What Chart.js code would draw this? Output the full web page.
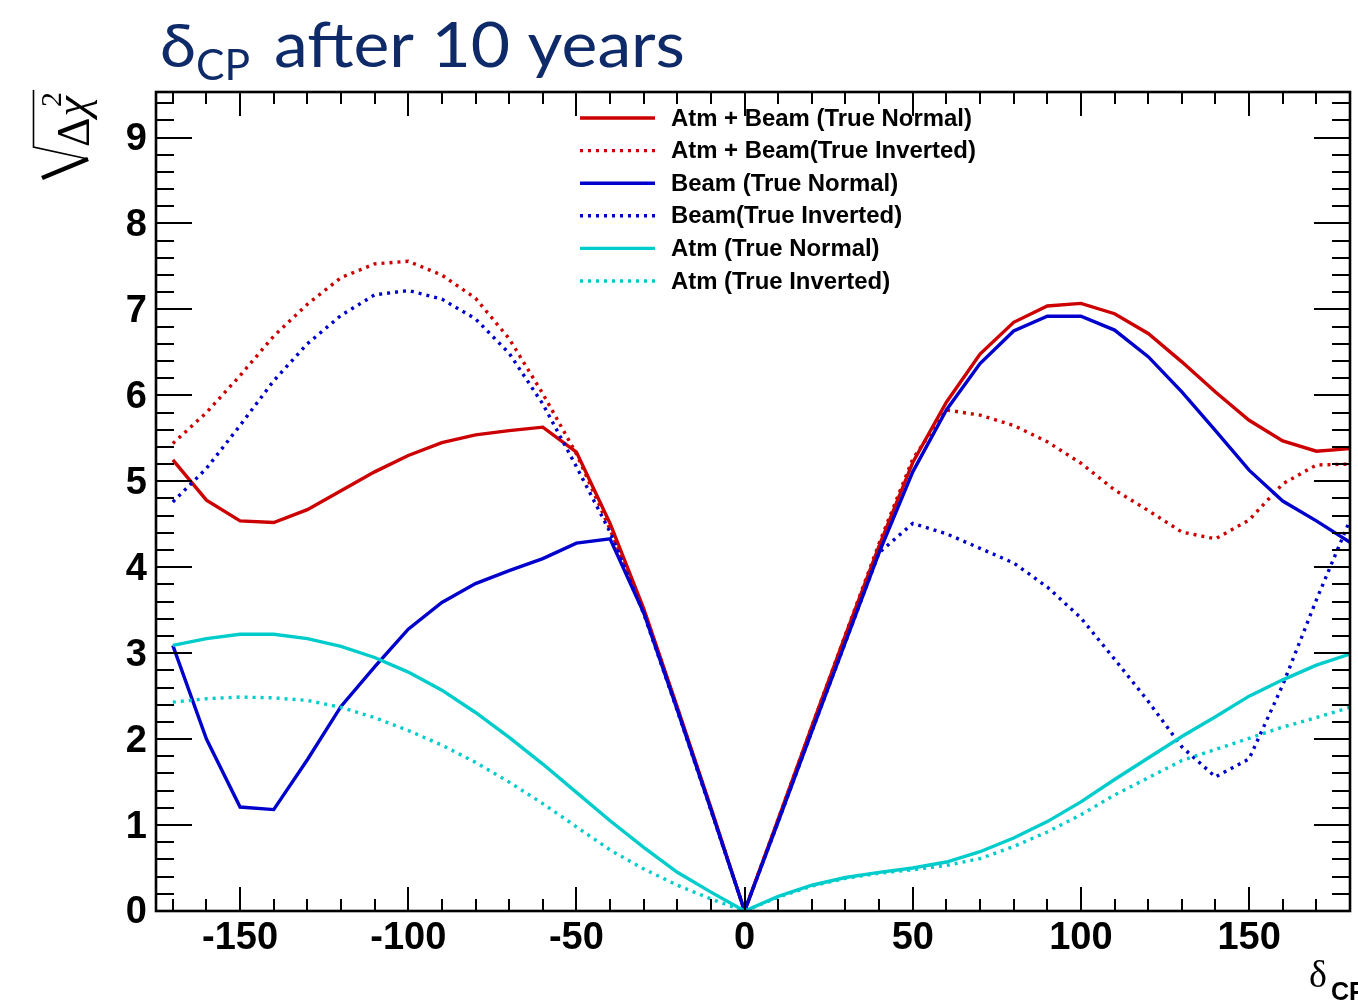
<!DOCTYPE html>
<html>
<head>
<meta charset="utf-8">
<script src="https://cdn.jsdelivr.net/npm/chart.js@4/dist/chart.umd.min.js"></script>
<style>html,body{margin:0;padding:0;background:#fff;overflow:hidden}</style>
</head>
<body>
<canvas id="c" width="1358" height="1001" style="display:block;width:1358px;height:1001px"></canvas>
<script>
// ---------------- data ----------------
const deltaCP = [-170,-160,-150,-140,-130,-120,-110,-100,-90,-80,-70,-60,-50,-40,-30,-20,-10,0,
                 10,20,30,40,50,60,70,80,90,100,110,120,130,140,150,160,170,180];

const atmBeamNormal   = [5.25,4.78,4.54,4.52,4.67,4.89,5.11,5.30,5.45,5.54,5.59,5.63,5.34,4.51,3.52,2.37,1.20,0,
                         1.07,2.15,3.21,4.25,5.22,5.92,6.48,6.85,7.04,7.07,6.95,6.72,6.39,6.04,5.71,5.47,5.35,5.38];
const atmBeamInverted = [5.44,5.80,6.23,6.69,7.06,7.37,7.53,7.56,7.40,7.13,6.66,6.02,5.32,4.44,3.50,2.36,1.19,0,
                         1.07,2.15,3.22,4.28,5.26,5.83,5.77,5.65,5.46,5.21,4.90,4.66,4.41,4.33,4.55,4.97,5.19,5.20];
const beamNormal      = [3.09,2.00,1.21,1.18,1.76,2.38,2.84,3.28,3.59,3.81,3.96,4.10,4.28,4.33,3.47,2.34,1.18,0,
                         1.04,2.09,3.13,4.17,5.11,5.83,6.37,6.75,6.92,6.92,6.76,6.45,6.04,5.59,5.13,4.77,4.54,4.29];
const beamInverted    = [4.76,5.15,5.65,6.17,6.60,6.93,7.17,7.22,7.12,6.89,6.49,5.90,5.17,4.41,3.46,2.33,1.17,0,
                         1.04,2.09,3.13,4.17,4.51,4.39,4.22,4.05,3.77,3.41,2.93,2.44,1.91,1.56,1.77,2.63,3.62,4.55];
const atmNormal       = [3.09,3.17,3.22,3.22,3.17,3.08,2.95,2.78,2.57,2.31,2.02,1.71,1.38,1.05,0.74,0.45,0.22,0,
                         0.17,0.30,0.39,0.45,0.50,0.57,0.69,0.85,1.04,1.27,1.53,1.78,2.03,2.26,2.50,2.69,2.86,2.99];
const atmInverted     = [2.43,2.47,2.49,2.48,2.45,2.37,2.25,2.10,1.93,1.73,1.50,1.25,0.98,0.71,0.49,0.30,0.14,0,
                         0.16,0.29,0.38,0.44,0.48,0.53,0.61,0.75,0.92,1.12,1.35,1.55,1.75,1.88,2.01,2.14,2.25,2.37];

const seriesLabels = ['Atm + Beam (True Normal)','Atm + Beam(True Inverted)','Beam (True Normal)',
                      'Beam(True Inverted)','Atm (True Normal)','Atm (True Inverted)'];
const xTickLabels = [-150,-100,-50,0,50,100,150];
const yTickLabels = [0,1,2,3,4,5,6,7,8,9];

// ---------------- styles ----------------
const RED = '#cc0000', BLUE = '#0000cc', CYAN = '#00cccc';
const DOT = [3,5];
const seriesValues = [atmBeamNormal, atmBeamInverted, beamNormal, beamInverted, atmNormal, atmInverted];
const seriesColors = [RED, RED, BLUE, BLUE, CYAN, CYAN];
const seriesDashes = [[], DOT, [], DOT, [], DOT];

const datasets = seriesValues.map((vals, i) => ({
  label: seriesLabels[i],
  data: deltaCP.map((d, k) => ({x: d, y: vals[k]})),
  borderColor: seriesColors[i],
  backgroundColor: seriesColors[i],
  borderWidth: 3.4,
  borderDash: seriesDashes[i],
  pointRadius: 0,
  tension: 0,
  fill: false,
  order: seriesValues.length - i
}));

const TICK_FONT = {family: "'Liberation Sans', Arial, sans-serif", weight: 'bold', size: 38};

const decor = {
  id: 'decor',
  afterDatasetsDraw(chart) {
    const {ctx, chartArea: a, scales: {x, y}} = chart;
    ctx.save();
    ctx.strokeStyle = '#000';
    ctx.lineWidth = 2;
    ctx.setLineDash([]);
    ctx.beginPath();
    for (let v = -170; v <= 180; v += 10) {
      const px = Math.round(x.getPixelForValue(v));
      const len = (v % 50 === 0) ? 24 : 12;
      ctx.moveTo(px, a.bottom); ctx.lineTo(px, a.bottom - len);
      ctx.moveTo(px, a.top); ctx.lineTo(px, a.top + len);
    }
    for (let k = 0; k <= 47; k++) {
      const py = Math.round(y.getPixelForValue(k * 0.2));
      const len = (k % 5 === 0) ? 36 : 18;
      ctx.moveTo(a.left, py); ctx.lineTo(a.left + len, py);
      ctx.moveTo(a.right, py); ctx.lineTo(a.right - len, py);
    }
    ctx.stroke();
    ctx.lineWidth = 2.6;
    ctx.strokeRect(a.left, a.top, a.right - a.left, a.bottom - a.top);
    ctx.restore();
  },
  afterDraw(chart) {
    const {ctx} = chart;
    ctx.save();
    // ---- legend ----
    ctx.font = "bold 22px 'Liberation Sans', Arial, sans-serif";
    const w0 = ctx.measureText(seriesLabels[0]).width;
    const fs = 22 * 301 / w0;
    ctx.font = `bold ${fs.toFixed(2)}px 'Liberation Sans', Arial, sans-serif`;
    ctx.textBaseline = 'middle';
    ctx.textAlign = 'left';
    chart.data.datasets.forEach((ds, i) => {
      const yy = 118 + i * 32.6;
      ctx.strokeStyle = ds.borderColor;
      ctx.lineWidth = 3.4;
      ctx.setLineDash(ds.borderDash || []);
      ctx.beginPath(); ctx.moveTo(580, yy); ctx.lineTo(655, yy); ctx.stroke();
      ctx.setLineDash([]);
      ctx.fillStyle = '#000';
      ctx.fillText(ds.label, 671, yy + 1);
    });

    // ---- title ----
    const navy = 'rgb(14,42,104)';
    ctx.fillStyle = navy;
    ctx.textBaseline = 'alphabetic';
    const TF = "'Lato', 'Open Sans', sans-serif";
    ctx.font = `400 60px ${TF}`;
    ctx.save();
    const dW = ctx.measureText('δ').width;
    ctx.translate(160, 67); ctx.scale(36 / dW, 1); ctx.fillText('δ', 0, 0);
    ctx.restore();
    ctx.font = `400 42px ${TF}`;
    ctx.save();
    const cpW = ctx.measureText('CP').width;
    ctx.translate(196, 80); ctx.scale(54 / cpW, 1); ctx.fillText('CP', 0, 0);
    ctx.restore();
    ctx.font = `400 61px ${TF}`;
    ctx.save();
    const tW = ctx.measureText('after 10 years').width;
    ctx.translate(274, 67); ctx.scale(411 / tW, 1); ctx.fillText('after 10 years', 0, 0);
    ctx.restore();

    // ---- y axis title: sqrt(Δχ^2) rotated ----
    ctx.save();
    ctx.translate(89, 147);
    ctx.rotate(-Math.PI / 2);
    ctx.fillStyle = '#000';
    ctx.strokeStyle = '#000';
    ctx.font = "46px 'Liberation Serif', 'DejaVu Serif', serif";
    ctx.fillText('Δ', 0, 0);
    const wD = ctx.measureText('Δ').width;
    ctx.font = "italic 46px 'Liberation Serif', 'DejaVu Serif', serif";
    ctx.fillText('χ', wD + 1, -2);
    ctx.font = "30px 'Liberation Serif', 'DejaVu Serif', serif";
    ctx.fillText('2', 40, -28);
    ctx.lineCap = 'butt';
    ctx.lineWidth = 4.5;
    ctx.beginPath(); ctx.moveTo(-31, -47); ctx.lineTo(-12, -1); ctx.stroke();
    ctx.lineWidth = 1.6;
    ctx.beginPath(); ctx.moveTo(-12, -1); ctx.lineTo(0, -55.5); ctx.lineTo(57, -55.5); ctx.stroke();
    ctx.restore();

    // ---- x axis title ----
    ctx.fillStyle = '#000';
    ctx.font = "38px 'Liberation Serif', 'DejaVu Serif', serif";
    ctx.fillText('δ', 1309, 987);
    ctx.font = "bold 25px 'Liberation Sans', Arial, sans-serif";
    ctx.fillText('CP', 1331, 1000);
    ctx.restore();
  }
};

new Chart(document.getElementById('c'), {
  type: 'line',
  data: {datasets},
  options: {
    responsive: false,
    animation: false,
    devicePixelRatio: 1,
    layout: {padding: {top: 92, right: 8, left: 0, bottom: 0}},
    plugins: {legend: {display: false}, tooltip: {enabled: false}, title: {display: false}},
    scales: {
      x: {
        type: 'linear', min: -175, max: 180,
        afterBuildTicks: s => { s.ticks = xTickLabels.map(v => ({value: v})); },
        afterFit: s => { s.height = 90; },
        grid: {display: false, drawTicks: false},
        border: {display: false},
        ticks: {color: '#000', font: TICK_FONT, padding: 5, maxRotation: 0, autoSkip: false}
      },
      y: {
        type: 'linear', min: 0, max: 9.53,
        afterBuildTicks: s => { s.ticks = yTickLabels.map(v => ({value: v})); },
        afterFit: s => { s.width = 156; },
        grid: {display: false, drawTicks: false},
        border: {display: false},
        ticks: {color: '#000', font: TICK_FONT, padding: 9, labelOffset: 2, autoSkip: false}
      }
    }
  },
  plugins: [decor]
});
</script>
</body>
</html>
